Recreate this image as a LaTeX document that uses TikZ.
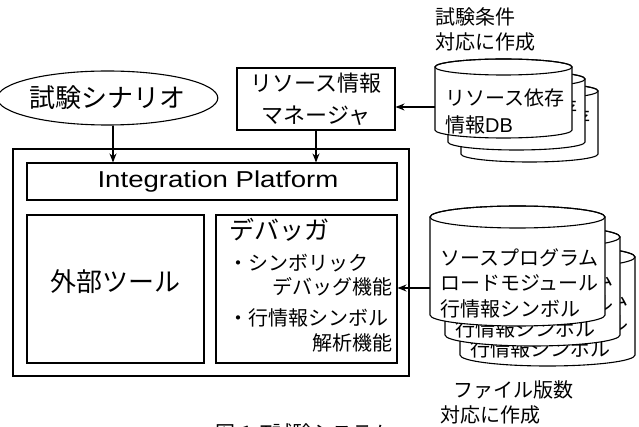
\documentclass[tikz,border=0pt]{standalone}
\usepackage{fontspec}
\usepackage{graphicx}
\setmainfont{Noto Sans CJK JP}
\newfontfamily\lat{Liberation Sans}
\usetikzlibrary{shapes.geometric,arrows.meta}
\newcommand\fsz[1]{\fontsize{#1}{#1}\selectfont}
\newcommand\dbcyl[5]{%
  \draw[line width=1.1pt,fill=white] ({#1-#4},{#2+#5}) -- ({#1-#4},{#3-#5})
    arc[start angle=180,end angle=360,x radius=#4pt,y radius=#5pt]
    -- ({#1+#4},{#2+#5})
    arc[start angle=0,end angle=180,x radius=#4pt,y radius=#5pt] -- cycle;
  \draw[line width=1.1pt] ({#1},{#2+#5}) ellipse[x radius=#4pt,y radius=#5pt];}
\begin{document}
\begin{tikzpicture}[x=1pt,y=-1pt,
  box/.style={draw,line width=1.1pt,inner sep=0pt},
  arr/.style={line width=1.1pt,-{Stealth[length=9pt,width=7pt]}},
  txt/.style={inner sep=0pt,font=\fsz{20}},
  dbtxtA/.style={inner sep=0pt,anchor=west,align=left,font=\fontsize{20}{27}\selectfont},
  dbtxtB/.style={inner sep=0pt,anchor=west,align=left,font=\fontsize{20}{25.5}\selectfont}]
\clip (0,0) rectangle (639,427);
\useasboundingbox (0,0) rectangle (639,427);

% scenario and manager
\node[box,ellipse,minimum width=189pt,minimum height=54pt,font=\fsz{26}] (sc) at (107.5,98) {試験シナリオ};
\node[box,minimum width=158pt,minimum height=62pt,align=center,font=\fontsize{22}{32}\selectfont] (m) at (316,99) {リソース情報\\マネージャ};

% main frame
\node[box,minimum width=396pt,minimum height=227pt] (outer) at (211,262.5) {};
\node[box,minimum width=370pt,minimum height=37pt] (ip) at (212,181.5) {};
\node[txt] (ipl) at (218,182) {\fsz{23}\lat\scalebox{1.2}[1]{Integration Platform}};
\node[box,minimum width=177pt,minimum height=148pt] (ext) at (115.5,289) {};
\node[txt,font=\fsz{26}] (extl) at (115.5,282) {外部ツール};
\node[box,minimum width=181pt,minimum height=148pt] (dbg) at (306.5,289) {};
\node[txt,font=\fsz{25},anchor=west] (d0) at (229,230) {デバッガ};
\node[txt,anchor=west] (d1) at (228,263) {・シンボリック};
\node[txt,anchor=east] (d2) at (393,287) {デバッグ機能};
\node[txt,anchor=west] (d3) at (228,318) {・行情報シンボル};
\node[txt,anchor=east] (d4) at (393,343) {解析機能};

% resource DB stack
\dbcyl{529.5}{83}{162}{68.5}{8}
\node[txt,anchor=west] (ta3) at (471,118) {リソース依存};
\dbcyl{516.5}{71}{150}{68.5}{8}
\node[txt,anchor=west] (ta2) at (458,108) {リソース依存};
\dbcyl{503.5}{59}{138}{68.5}{8}
\node[dbtxtA] (ta1) at (445,111.5) {リソース依存\\情報{\lat DB}};

% program DB stack
\dbcyl{547.5}{246}{366}{87.5}{11}
\node[dbtxtB] (tb3) at (470,323) {ソースプログラム\\ロードモジュール\\行情報シンボル};
\dbcyl{532.5}{226}{346}{87.5}{11}
\node[dbtxtB] (tb2) at (455,303) {ソースプログラム\\ロードモジュール\\行情報シンボル};
\dbcyl{517.5}{206}{326}{87.5}{11}
\node[dbtxtB] (tb1) at (440,283) {ソースプログラム\\ロードモジュール\\行情報シンボル};

% labels
\node[txt,anchor=west,align=left,font=\fontsize{20}{25}\selectfont] (la) at (435,29.5) {試験条件\\対応に作成};
\node[txt,anchor=west] (lb1) at (453,390) {ファイル版数};
\node[txt,anchor=west] (lb2) at (440,415) {対応に作成};
\node[txt,anchor=north west] (cap) at (215,423.5) {図\hspace{6pt}1\hspace{8pt}T試験システム};

% connectors
\coordinate (pA) at (435,107);
\coordinate (pB) at (430,288);
\draw[arr] ([xshift=5.5pt]sc.south) -- ([xshift=5.5pt]sc.south |- ip.north);
\draw[arr] (m.south) -- (m.south |- ip.north);
\draw[arr] (pA) -- (pA -| m.east);
\draw[arr] (pB) -- (pB -| dbg.east);
\end{tikzpicture}
\end{document}
